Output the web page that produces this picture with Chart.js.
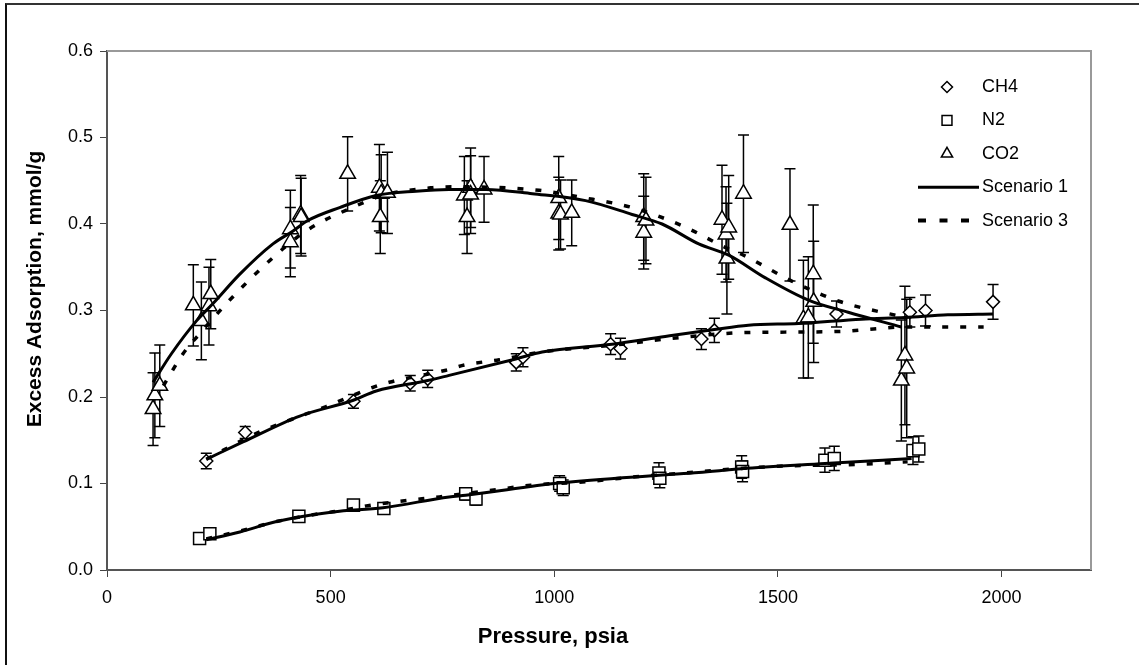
<!DOCTYPE html>
<html><head><meta charset="utf-8">
<script src="https://cdn.jsdelivr.net/npm/chart.js@4.4.1/dist/chart.umd.min.js"></script>
<style>
html,body{margin:0;padding:0;background:#fff;}
#wrap{position:relative;width:1139px;height:665px;overflow:hidden;}
#frame{position:absolute;left:5px;top:3px;width:1132px;height:700px;border-left:2px solid #111;border-top:2px solid #333;border-right:1px solid #ccc;pointer-events:none;}
</style></head><body>
<div id="wrap"><canvas id="c" width="1139" height="665"></canvas><div id="frame"></div></div>
<script>
// ---- data ----
const xTicks = [0, 500, 1000, 1500, 2000];
const yTicks = [0, 0.1, 0.2, 0.3, 0.4, 0.5, 0.6];
const legendLabels = ['CH4', 'N2', 'CO2', 'Scenario 1', 'Scenario 3'];
const xTitle = 'Pressure, psia';
const yTitleText = 'Excess Adsorption, mmol/g';

const ch4P = [222,309,551,678,717,915,930,1126,1148,1329,1358,1631,1795,1830,1981];
const ch4A = [0.126,0.159,0.195,0.216,0.221,0.240,0.246,0.261,0.256,0.267,0.277,0.296,0.298,0.300,0.310];
const ch4E = [0.009,0.007,0.008,0.009,0.010,0.010,0.011,0.012,0.012,0.012,0.014,0.015,0.017,0.018,0.020];

const n2P = [207,230,429,551,619,802,825,1012,1020,1234,1236,1419,1421,1605,1626,1802,1815];
const n2A = [0.0365,0.042,0.062,0.075,0.071,0.088,0.082,0.100,0.095,0.112,0.106,0.119,0.114,0.127,0.129,0.138,0.140];
const n2E = [0.004,0.004,0.005,0.006,0.005,0.007,0.007,0.009,0.009,0.012,0.011,0.013,0.012,0.014,0.014,0.016,0.015];

const co2P = [103,107,118,193,211,228,232,410,410,433,434,538,609,611,613,627,799,805,813,813,843,1010,1010,1014,1039,1200,1200,1205,1375,1384,1386,1390,1423,1527,1557,1568,1579,1580,1776,1784,1788];
const co2A = [0.186,0.202,0.213,0.306,0.288,0.305,0.319,0.394,0.379,0.411,0.408,0.458,0.442,0.408,0.435,0.436,0.433,0.408,0.442,0.434,0.440,0.430,0.412,0.411,0.413,0.408,0.390,0.404,0.405,0.388,0.360,0.396,0.435,0.399,0.290,0.292,0.342,0.310,0.219,0.248,0.233];
const co2E = [0.042,0.049,0.047,0.047,0.045,0.045,0.040,0.045,0.040,0.045,0.045,0.043,0.050,0.042,0.045,0.047,0.045,0.042,0.046,0.045,0.038,0.048,0.042,0.040,0.038,0.050,0.042,0.050,0.063,0.055,0.064,0.060,0.068,0.065,0.068,0.070,0.080,0.070,0.070,0.080,0.080];

// model curves
const s1Ch4P = [222,304,431,549,602,717,765,914,973,1129,1248,1358,1434,1546,1687,1784,1880,1981];
const s1Ch4A = [0.128,0.148,0.178,0.196,0.207,0.219,0.225,0.244,0.252,0.261,0.270,0.278,0.283,0.285,0.290,0.292,0.295,0.296];
const s3Ch4P = [222,334,412,490,594,631,758,799,877,973,1170,1245,1286,1401,1516,1650,1720,1780,1960];
const s3Ch4A = [0.128,0.158,0.174,0.189,0.211,0.217,0.231,0.237,0.243,0.252,0.262,0.267,0.269,0.274,0.275,0.276,0.279,0.281,0.281];
const s1N2P = [222,297,379,505,617,765,802,1010,1234,1323,1418,1605,1799];
const s1N2A = [0.035,0.044,0.056,0.067,0.072,0.0845,0.0865,0.1005,0.1096,0.1127,0.117,0.123,0.129];
const s3N2P = [222,297,379,475,516,590,665,743,873,947,1070,1182,1278,1356,1501,1672,1790];
const s3N2A = [0.036,0.045,0.056,0.065,0.068,0.075,0.080,0.0845,0.093,0.098,0.102,0.1077,0.1115,0.115,0.120,0.122,0.125];
const s1Co2P = [103,144,200,237,297,371,416,449,520,602,691,765,847,951,1070,1174,1241,1323,1390,1471,1568,1657,1776];
const s1Co2A = [0.217,0.250,0.288,0.308,0.342,0.377,0.392,0.404,0.419,0.433,0.438,0.440,0.440,0.435,0.427,0.411,0.400,0.377,0.364,0.338,0.312,0.298,0.281];
const s3Co2P = [126,170,207,267,356,445,557,616,728,773,966,1059,1174,1286,1390,1419,1531,1635,1769,1790];
const s3Co2A = [0.213,0.250,0.273,0.308,0.354,0.392,0.421,0.433,0.442,0.443,0.439,0.431,0.419,0.398,0.371,0.365,0.334,0.311,0.294,0.292];

// ---- build ----
const FONT = "'Liberation Sans', Arial, sans-serif";
const pts = (xs, ys) => xs.map((v, i) => ({x: v, y: ys[i]}));
const DASH = [6, 12];

function markerSet(label, xs, ys, es, style, r) {
  return {label, data: pts(xs, ys), errors: es, showLine: false, pointStyle: style,
    pointRadius: r, pointHoverRadius: r, pointBackgroundColor: '#fff', pointBorderColor: '#000',
    pointBorderWidth: 1.5, order: 5};
}
function curveSet(label, xs, ys, dashed) {
  return {label, data: pts(xs, ys), showLine: true, pointRadius: 0, pointHoverRadius: 0,
    borderColor: '#000', borderWidth: dashed ? 3.5 : 3, borderDash: dashed ? DASH : [],
    cubicInterpolationMode: 'monotone', fill: false, order: 1};
}

const datasets = [
  markerSet(legendLabels[0], ch4P, ch4A, ch4E, 'rectRot', 6.5),
  markerSet(legendLabels[1], n2P, n2A, n2E, 'rect', 8.5),
  markerSet(legendLabels[2], co2P, co2A, co2E, 'triangle', 9),
  curveSet(legendLabels[3], s1Ch4P, s1Ch4A, false),
  curveSet(legendLabels[3], s1N2P, s1N2A, false),
  curveSet(legendLabels[3], s1Co2P, s1Co2A, false),
  curveSet(legendLabels[4], s3Ch4P, s3Ch4A, true),
  curveSet(legendLabels[4], s3N2P, s3N2A, true),
  curveSet(legendLabels[4], s3Co2P, s3Co2A, true)
];

const errorBars = {
  id: 'errorBars',
  beforeDatasetsDraw(chart) {
    const {ctx, scales: {x, y}} = chart;
    ctx.save();
    ctx.strokeStyle = '#000'; ctx.lineWidth = 1.5;
    chart.data.datasets.forEach(ds => {
      if (!ds.errors) return;
      ds.data.forEach((p, j) => {
        const e = ds.errors[j];
        const px = x.getPixelForValue(p.x);
        const y1 = y.getPixelForValue(p.y + e), y2 = y.getPixelForValue(p.y - e);
        ctx.beginPath();
        ctx.moveTo(px, y1); ctx.lineTo(px, y2);
        ctx.moveTo(px - 5.5, y1); ctx.lineTo(px + 5.5, y1);
        ctx.moveTo(px - 5.5, y2); ctx.lineTo(px + 5.5, y2);
        ctx.stroke();
      });
    });
    ctx.restore();
  }
};

const plotFrame = {
  id: 'plotFrame',
  beforeDatasetsDraw(chart) {
    const {ctx, chartArea: a} = chart;
    ctx.save();
    ctx.strokeStyle = '#999'; ctx.lineWidth = 2;
    ctx.beginPath();
    ctx.moveTo(a.left, a.top); ctx.lineTo(a.right, a.top); ctx.lineTo(a.right, a.bottom);
    ctx.stroke();
    ctx.restore();
  }
};

const axisTitles = {
  id: 'axisTitles',
  afterDraw(chart) {
    const ctx = chart.ctx;
    ctx.save();
    ctx.fillStyle = '#000';
    ctx.textAlign = 'center'; ctx.textBaseline = 'middle';
    ctx.font = "bold 22px " + FONT;
    ctx.fillText(xTitle, 553, 637);
    ctx.translate(35, 289);
    ctx.rotate(-Math.PI / 2);
    ctx.font = "bold 21px " + FONT;
    ctx.fillText(yTitleText, 0, 0);
    ctx.restore();
  }
};

const customLegend = {
  id: 'customLegend',
  afterDraw(chart) {
    const ctx = chart.ctx;
    const mx = 947, tx = 982, y0 = 87, dy = 33.4;
    const styles = [['rectRot', 5.5], ['rect', 7], ['triangle', 6.5]];
    ctx.save();
    ctx.font = "18px " + FONT;
    ctx.textBaseline = 'middle'; ctx.textAlign = 'left';
    legendLabels.forEach((lab, i) => {
      const y = y0 + i * dy;
      if (i < 3) {
        ctx.fillStyle = '#fff'; ctx.strokeStyle = '#000'; ctx.lineWidth = 1.5;
        Chart.helpers.drawPoint(ctx, {pointStyle: styles[i][0], radius: styles[i][1], borderWidth: 1.5, rotation: 0}, mx, y);
      } else {
        ctx.strokeStyle = '#000';
        ctx.lineWidth = i === 3 ? 3 : 4;
        ctx.setLineDash(i === 3 ? [] : [8, 13.5]);
        ctx.beginPath(); ctx.moveTo(918, y); ctx.lineTo(979, y); ctx.stroke();
        ctx.setLineDash([]);
      }
      ctx.fillStyle = '#000';
      ctx.fillText(lab, tx, y);
    });
    ctx.restore();
  }
};

new Chart(document.getElementById('c'), {
  type: 'scatter',
  data: {datasets},
  options: {
    responsive: false, animation: false, devicePixelRatio: 1,
    layout: {padding: {left: 0, top: 51, right: 48, bottom: 0}},
    plugins: {legend: {display: false}, tooltip: {enabled: false}},
    scales: {
      x: {
        type: 'linear', min: 0, max: 2200,
        afterBuildTicks: s => { s.ticks = xTicks.map(v => ({value: v})); },
        afterFit: s => { s.height = 95; },
        grid: {drawOnChartArea: false, drawTicks: true, tickLength: 7, color: '#444', lineWidth: 1},
        border: {display: true, color: '#555', width: 2},
        ticks: {color: '#000', font: {family: FONT, size: 18}, padding: 10, maxRotation: 0, callback: v => String(v)}
      },
      y: {
        type: 'linear', min: 0, max: 0.6,
        afterBuildTicks: s => { s.ticks = yTicks.map(v => ({value: v})); },
        afterFit: s => { s.width = 107; },
        grid: {drawOnChartArea: false, drawTicks: true, tickLength: 7, color: '#444', lineWidth: 1},
        border: {display: true, color: '#555', width: 2},
        ticks: {color: '#000', font: {family: FONT, size: 18}, padding: 7, callback: v => v.toFixed(1)}
      }
    }
  },
  plugins: [plotFrame, errorBars, axisTitles, customLegend]
});
</script>
</body></html>
